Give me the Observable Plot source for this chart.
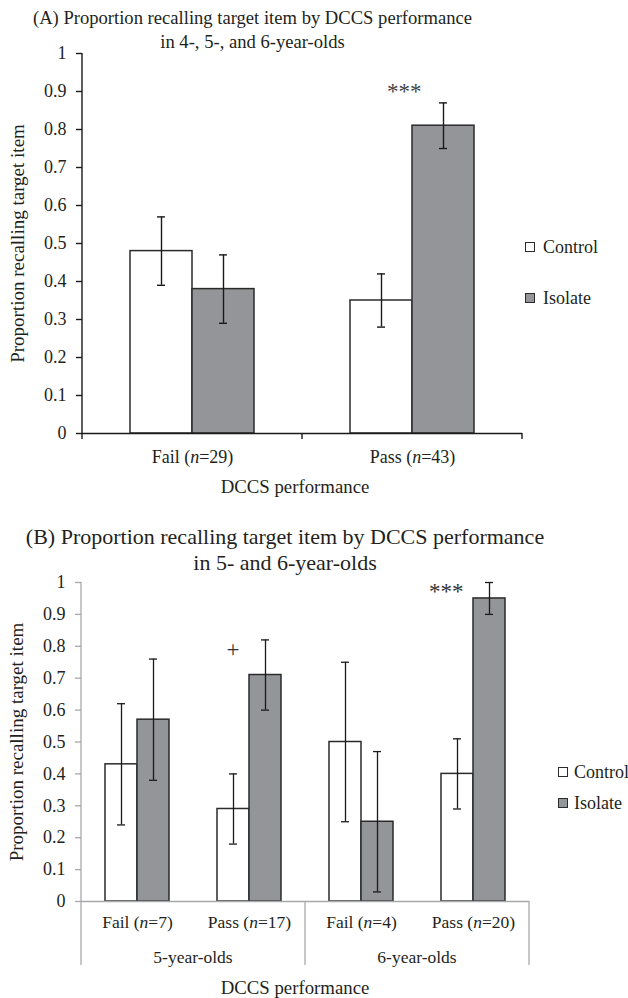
<!DOCTYPE html>
<html>
<head>
<meta charset="utf-8">
<script src="https://cdn.jsdelivr.net/npm/d3@7"></script>
<script src="https://cdn.jsdelivr.net/npm/@observablehq/plot@0.6"></script>
<style>
  html, body { margin: 0; padding: 0; background: #fff; }
  #page { position: relative; width: 628px; height: 998px; overflow: hidden; }
  .t { position: absolute; font-family: 'Liberation Serif', 'Times New Roman', serif; color: #231f20; white-space: nowrap; }
  .title { text-align: center; }
  .leg { display: flex; align-items: center; font-size: 18px; line-height: 20px; }
  .sw { display: inline-block; width: 8px; height: 8px; border: 1.3px solid #2b2b2b; }
  svg.plot { position: absolute; left: 0; }
</style>
</head>
<body>
<div id="page"></div>
<script>
// ---------- data ----------
const seriesNames = ["Control", "Isolate"];
const seriesFill = ["#ffffff", "#939598"];

// Panel A
const titleA = ["(A) Proportion recalling target item by DCCS performance", "in 4-, 5-, and 6-year-olds"];
const catsA = ["Fail (n=29)", "Pass (n=43)"];
const controlA = [0.48, 0.35];
const controlLowA = [0.39, 0.28];
const controlHighA = [0.57, 0.42];
const isolateA = [0.38, 0.81];
const isolateLowA = [0.29, 0.75];
const isolateHighA = [0.47, 0.87];
const sigA = ["", "***"];

// Panel B
const titleB = ["(B) Proportion recalling target item by DCCS performance", "in 5- and 6-year-olds"];
const catsB = ["Fail (n=7)", "Pass (n=17)", "Fail (n=4)", "Pass (n=20)"];
const groupsB = ["5-year-olds", "5-year-olds", "6-year-olds", "6-year-olds"];
const controlB = [0.43, 0.29, 0.50, 0.40];
const controlLowB = [0.24, 0.18, 0.25, 0.29];
const controlHighB = [0.62, 0.40, 0.75, 0.51];
const isolateB = [0.57, 0.71, 0.25, 0.95];
const isolateLowB = [0.38, 0.60, 0.03, 0.90];
const isolateHighB = [0.76, 0.82, 0.47, 1.00];
const sigB = ["", "+", "", "***"];

const yTicks = [0, 0.1, 0.2, 0.3, 0.4, 0.5, 0.6, 0.7, 0.8, 0.9, 1];
const yLabel = "Proportion recalling target item";
const xLabel = "DCCS performance";

// ---------- helpers ----------
const FONT = "'Liberation Serif', 'Times New Roman', serif";
const fmt = d => String(+d.toFixed(1));

function buildRows(cats, c, cl, ch, iso, il, ih) {
  return cats.flatMap((cat, i) => [
    {cat, series: seriesNames[0], value: c[i], low: cl[i], high: ch[i]},
    {cat, series: seriesNames[1], value: iso[i], low: il[i], high: ih[i]}
  ]);
}
function buildSig(cats, sig, high) {
  return cats.map((cat, i) => ({cat, sig: sig[i], high: high[i]})).filter(d => d.sig);
}
function italicizeN(svg) {
  d3.select(svg).selectAll("text").each(function () {
    const t = this.textContent;
    const m = t.match(/^(.*\()n(=.*)$/);
    if (m) {
      const s = d3.select(this);
      s.text(null);
      s.append("tspan").text(m[1]);
      s.append("tspan").attr("font-style", "italic").text("n");
      s.append("tspan").text(m[2]);
    }
  });
}
function enlargeYLabel(svg) {
  d3.select(svg).selectAll('g[aria-label="y-axis label"] text').attr("font-size", 19);
}
function addDiv(page, cls, css, html) {
  const d = document.createElement("div");
  d.className = cls;
  Object.assign(d.style, css);
  d.innerHTML = html;
  page.appendChild(d);
  return d;
}

const page = document.getElementById("page");

// ---------- Panel A ----------
const rowsA = buildRows(catsA, controlA, controlLowA, controlHighA, isolateA, isolateLowA, isolateHighA);
const sigRowsA = buildSig(catsA, sigA, isolateHighA);

const plotA = Plot.plot({
  width: 628, height: 500,
  marginLeft: 82, marginRight: 106, marginTop: 53, marginBottom: 67,
  style: {fontFamily: FONT, fontSize: "18px", color: "#231f20", background: "transparent", overflow: "visible"},
  fx: {domain: catsA, padding: 0, axis: null},
  x: {domain: seriesNames, paddingInner: 0, paddingOuter: 0.77, axis: null},
  y: {domain: [0, 1], axis: null},
  color: {domain: seriesNames, range: seriesFill},
  marks: [
    Plot.barY(rowsA, {fx: "cat", x: "series", y: "value", fill: "series", stroke: "#2b2b2b", strokeWidth: 1.5}),
    Plot.ruleX(rowsA, {fx: "cat", x: "series", y1: "low", y2: "high", stroke: "#1a1a1a", strokeWidth: 1.4}),
    Plot.tickY(rowsA, {fx: "cat", x: "series", y: "low", stroke: "#1a1a1a", strokeWidth: 1.4, insetLeft: 27, insetRight: 27}),
    Plot.tickY(rowsA, {fx: "cat", x: "series", y: "high", stroke: "#1a1a1a", strokeWidth: 1.4, insetLeft: 27, insetRight: 27}),
    Plot.ruleY([0], {stroke: "#1a1a1a", strokeWidth: 1.4}),
    Plot.text(sigRowsA, {fx: "cat", x: () => seriesNames[1], y: d => d.high + 0.03, text: "sig", textAnchor: "end", dx: -22, fontSize: 23, fill: "#444"}),
    Plot.axisY({ticks: yTicks, tickFormat: fmt, tickSize: 6, tickPadding: 10, stroke: "#1a1a1a", strokeWidth: 1.4,
      label: yLabel, labelAnchor: "center", labelOffset: 72, labelArrow: "none"}),
    Plot.axisFx({anchor: "bottom", tickSize: 0, tickPadding: 17, label: null})
  ]
});
plotA.classList.add("plot");
plotA.style.top = "0px";
page.appendChild(plotA);
italicizeN(plotA);
enlargeYLabel(plotA);
(function () {
  const svg = d3.select(plotA);
  const fx = plotA.scale("fx"), y = plotA.scale("y");
  const y0 = y.apply(0), y1 = y.apply(1);
  const left = fx.apply(catsA[0]);
  const edges = catsA.map(c => fx.apply(c)).concat([fx.apply(catsA[catsA.length - 1]) + fx.bandwidth]);
  svg.append("line").attr("x1", left).attr("x2", left).attr("y1", y1).attr("y2", y0)
    .attr("stroke", "#1a1a1a").attr("stroke-width", 1.4);
  edges.forEach(e => svg.append("line").attr("x1", e).attr("x2", e).attr("y1", y0).attr("y2", y0 + 6)
    .attr("stroke", "#1a1a1a").attr("stroke-width", 1.4));
})();

// ---------- Panel B ----------
const rowsB = buildRows(catsB, controlB, controlLowB, controlHighB, isolateB, isolateLowB, isolateHighB);
const sigRowsB = buildSig(catsB, sigB, isolateHighB);
const axisGray = "#a7a9ac";

const plotB = Plot.plot({
  width: 628, height: 498,
  marginLeft: 80, marginRight: 98, marginTop: 82, marginBottom: 97,
  style: {fontFamily: FONT, fontSize: "18px", color: "#231f20", background: "transparent", overflow: "visible"},
  fx: {domain: catsB, padding: 0, axis: null},
  x: {domain: seriesNames, paddingInner: 0, paddingOuter: 0.73, axis: null},
  y: {domain: [0, 1], axis: null},
  color: {domain: seriesNames, range: seriesFill},
  marks: [
    Plot.barY(rowsB, {fx: "cat", x: "series", y: "value", fill: "series", stroke: "#2b2b2b", strokeWidth: 1.5}),
    Plot.ruleX(rowsB, {fx: "cat", x: "series", y1: "low", y2: "high", stroke: "#1a1a1a", strokeWidth: 1.3}),
    Plot.tickY(rowsB, {fx: "cat", x: "series", y: "low", stroke: "#1a1a1a", strokeWidth: 1.3, insetLeft: 12, insetRight: 12}),
    Plot.tickY(rowsB, {fx: "cat", x: "series", y: "high", stroke: "#1a1a1a", strokeWidth: 1.3, insetLeft: 12, insetRight: 12}),
    Plot.ruleY([0], {stroke: axisGray, strokeWidth: 1.3}),
    Plot.text(sigRowsB, {fx: "cat", x: () => seriesNames[1], y: d => d.high - 0.03, text: "sig", textAnchor: "end", dx: -26, fontSize: 23, fill: "#333"}),
    Plot.axisY({ticks: yTicks, tickFormat: fmt, tickSize: 6, tickPadding: 10, stroke: axisGray, strokeWidth: 1.3,
      label: yLabel, labelAnchor: "center", labelOffset: 72, labelArrow: "none"}),
    Plot.axisFx({anchor: "bottom", tickSize: 0, tickPadding: 14, fontSize: 17.5, label: null})
  ]
});
plotB.classList.add("plot");
plotB.style.top = "500px";
page.appendChild(plotB);
italicizeN(plotB);
enlargeYLabel(plotB);
(function () {
  const svg = d3.select(plotB);
  const fx = plotB.scale("fx"), y = plotB.scale("y");
  const y0 = y.apply(0), y1 = y.apply(1);
  const left = fx.apply(catsB[0]);
  svg.append("line").attr("x1", left).attr("x2", left).attr("y1", y1).attr("y2", y0)
    .attr("stroke", axisGray).attr("stroke-width", 1.3);
  // group dividers and group labels
  const groups = [];
  catsB.forEach((c, i) => {
    const g = groupsB[i];
    const s = fx.apply(c), e = s + fx.bandwidth;
    if (!groups.length || groups[groups.length - 1].name !== g) groups.push({name: g, start: s, end: e});
    else groups[groups.length - 1].end = e;
  });
  const edges = groups.map(g => g.start).concat([groups[groups.length - 1].end]);
  edges.forEach(e => svg.append("line").attr("x1", e).attr("x2", e).attr("y1", y0).attr("y2", y0 + 64)
    .attr("stroke", axisGray).attr("stroke-width", 1.3));
  groups.forEach(g => svg.append("text").attr("x", (g.start + g.end) / 2).attr("y", y0 + 56).attr("dy", "0.32em")
    .attr("text-anchor", "middle").attr("fill", "#231f20").attr("font-size", 17.5).text(g.name));
})();

// ---------- titles, axis titles, legends ----------
addDiv(page, "t title", {left: "0px", width: "505px", top: "6px", fontSize: "18.6px", lineHeight: "24px"}, titleA.join("<br>"));
addDiv(page, "t title", {left: "0px", width: "570px", top: "524px", fontSize: "22px", lineHeight: "26px"}, titleB.join("<br>"));
addDiv(page, "t title", {left: "0px", width: "590px", top: "475px", fontSize: "18.8px", lineHeight: "24px"}, xLabel);
addDiv(page, "t title", {left: "0px", width: "590px", top: "976px", fontSize: "18.8px", lineHeight: "24px"}, xLabel);

function legend(left, tops, gap) {
  seriesNames.forEach((s, i) => {
    addDiv(page, "t leg", {left: left + "px", top: tops[i] + "px"},
      `<span class="sw" style="background:${seriesFill[i]}"></span><span style="margin-left:${gap}px">${s}</span>`);
  });
}
legend(525, [237, 288], 8);
legend(558, [762, 793], 6);
</script>
</body>
</html>
